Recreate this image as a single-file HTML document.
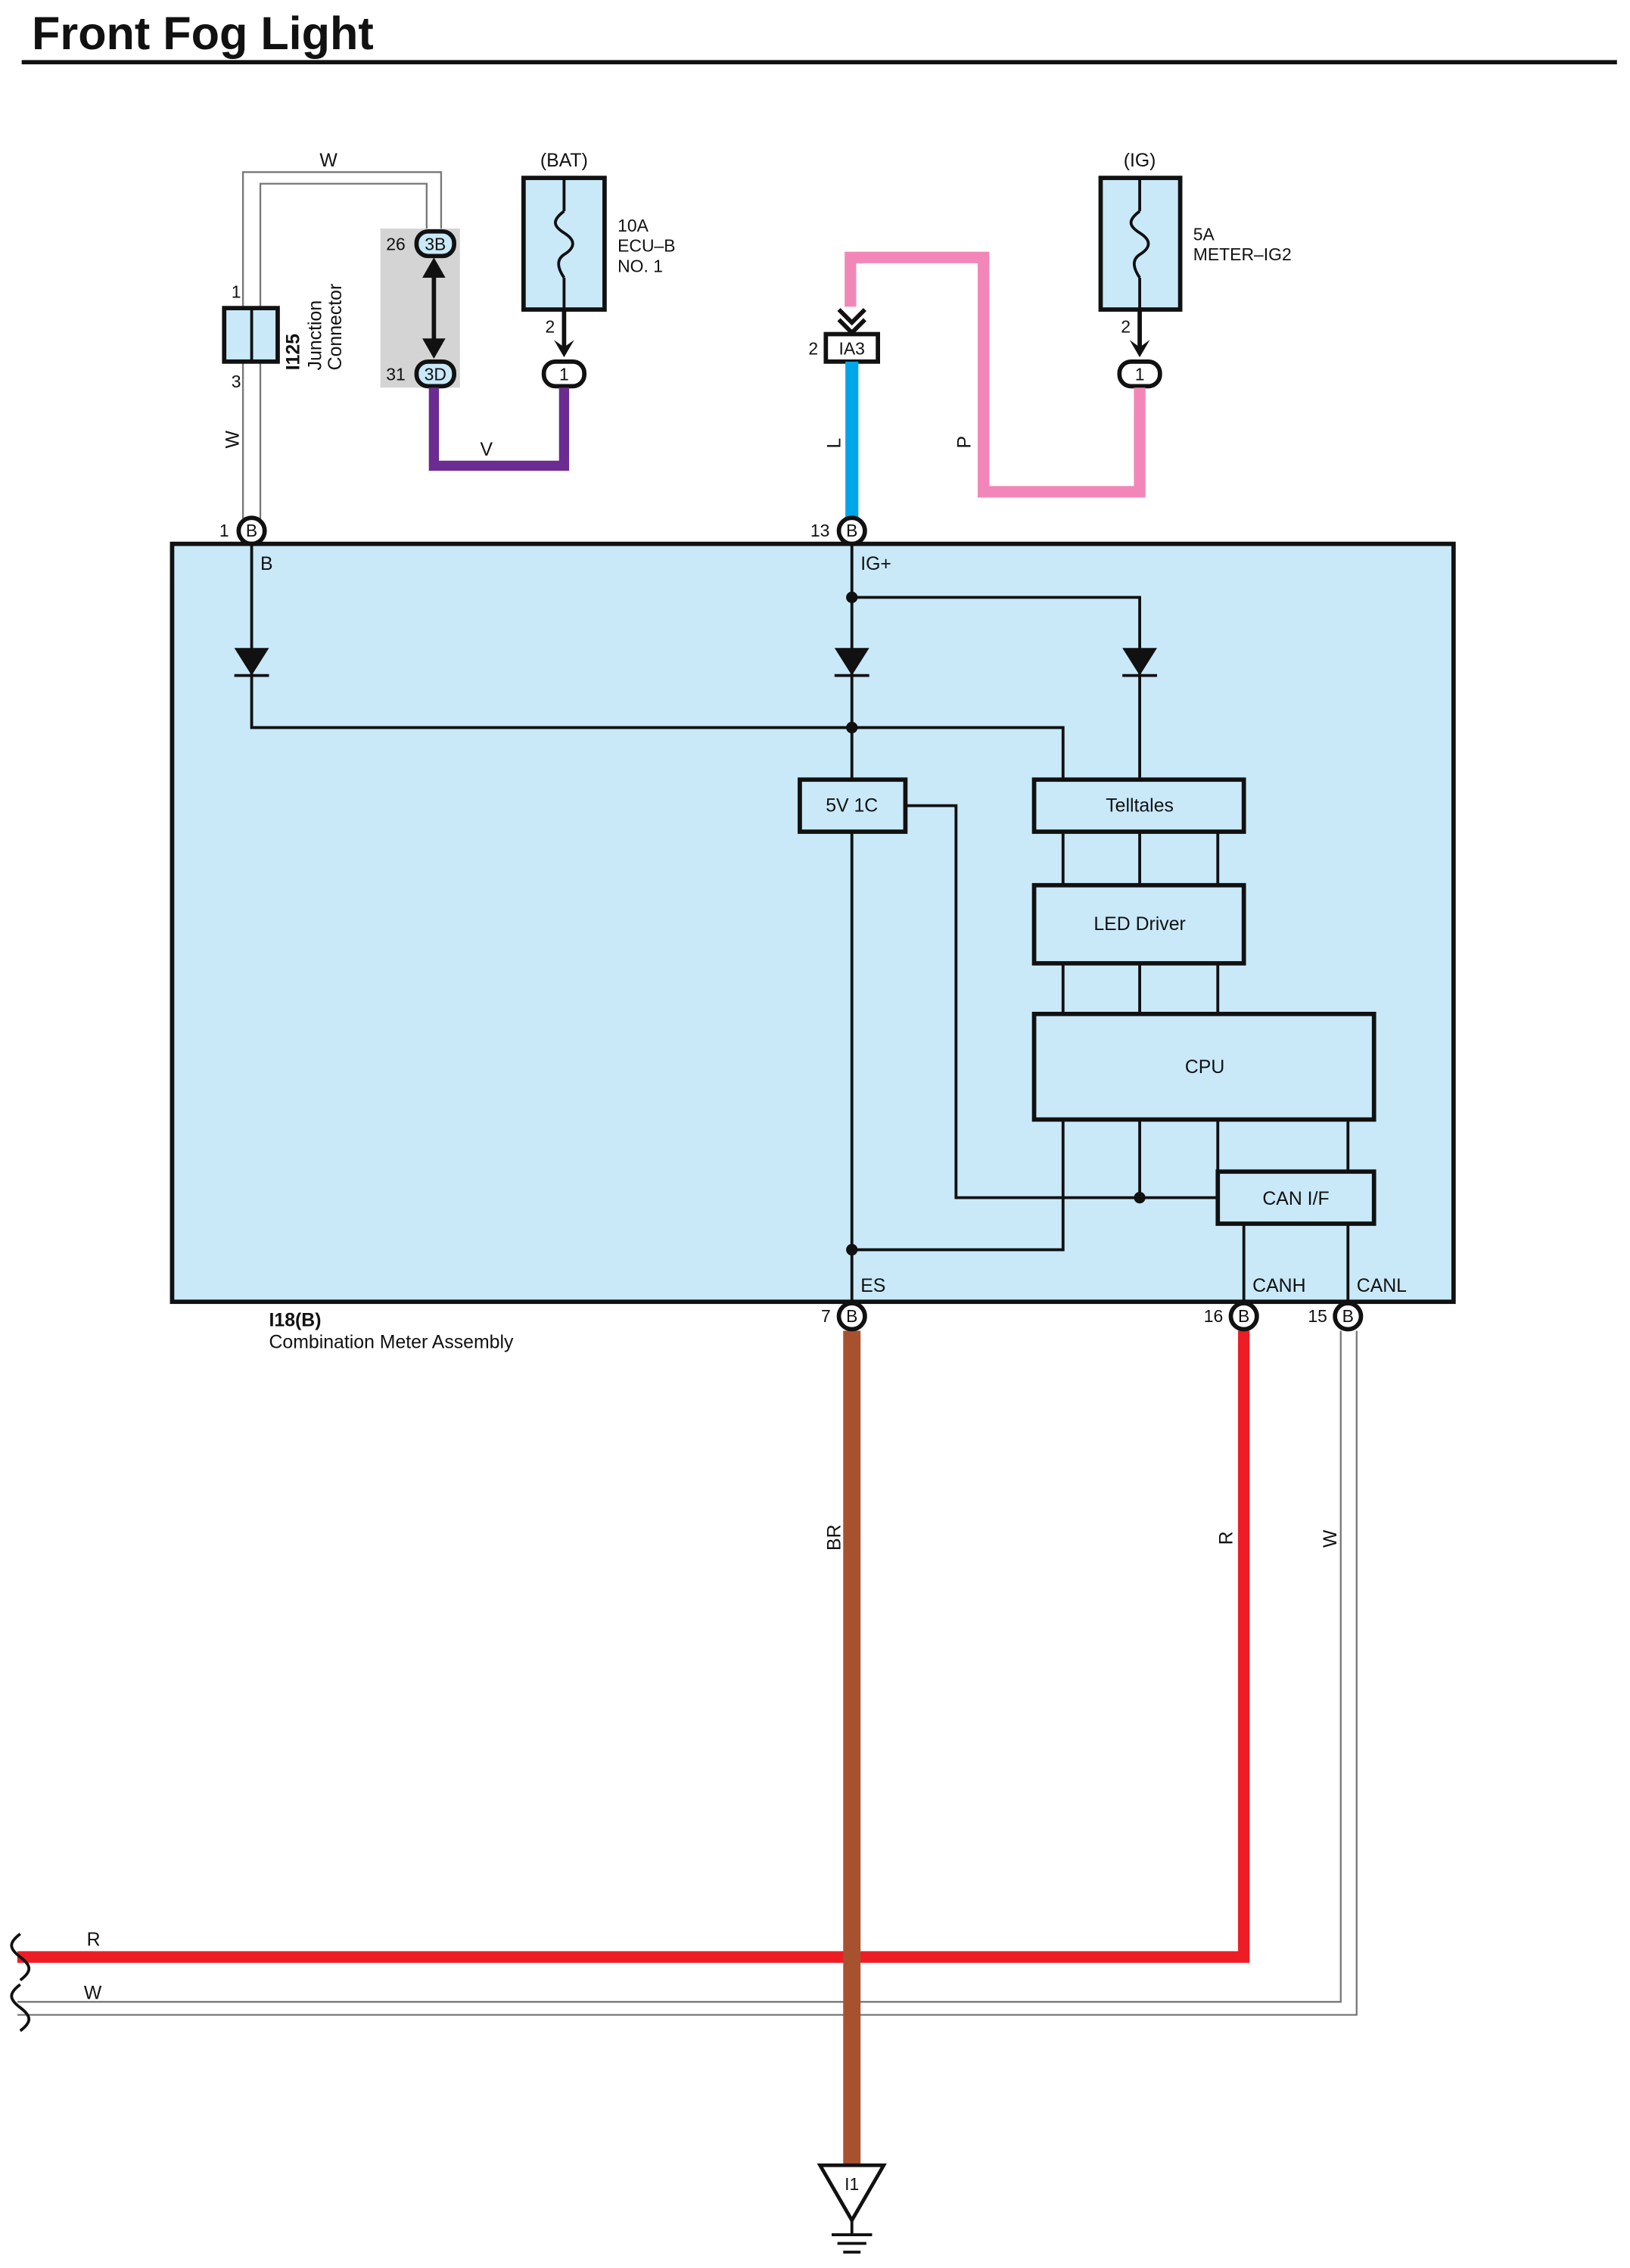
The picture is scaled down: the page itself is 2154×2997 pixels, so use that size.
<!DOCTYPE html>
<html><head><meta charset="utf-8"><style>
html,body{margin:0;padding:0;background:#fff}
svg{display:block}
text{font-family:"Liberation Sans",sans-serif;fill:#111}
</style></head><body>
<svg width="2154" height="2997" viewBox="0 0 1127 1568" preserveAspectRatio="none" xmlns="http://www.w3.org/2000/svg">
<text x="22" y="34" font-size="32" font-weight="bold">Front Fog Light</text>
<line x1="15" y1="43" x2="1118" y2="43" stroke="#111" stroke-width="3"/>

<path d="M168,360V119H305V160" fill="none" stroke="#777" stroke-width="1.2"/>
<path d="M180,360V127H295V160" fill="none" stroke="#777" stroke-width="1.2"/>
<text x="221" y="115" font-size="13">W</text>
<text x="165" y="310" font-size="13" transform="rotate(-90 165 310)">W</text>
<rect x="155" y="213" width="37" height="37" fill="#c9e9f9" stroke="#111" stroke-width="3"/>
<line x1="174" y1="213" x2="174" y2="250" stroke="#111" stroke-width="2"/>
<text x="160" y="206" font-size="12">1</text>
<text x="160" y="268" font-size="12">3</text>
<text x="207" y="256" font-size="13" font-weight="bold" transform="rotate(-90 207 256)">I125</text>
<text x="222" y="256" font-size="13" transform="rotate(-90 222 256)">Junction</text>
<text x="236" y="256" font-size="13" transform="rotate(-90 236 256)">Connector</text>

<rect x="263" y="158" width="55" height="110" fill="#d4d4d4"/>
<line x1="300" y1="182" x2="300" y2="244" stroke="#111" stroke-width="3"/>
<path d="M292,192L300,178L308,192z M292,234L300,248L308,234z" fill="#111"/>
<rect x="288" y="160" width="26" height="17" rx="8" fill="#c9e9f9" stroke="#111" stroke-width="3"/>
<text x="301" y="173" font-size="12" text-anchor="middle">3B</text>
<rect x="288" y="250" width="26" height="17" rx="8" fill="#c9e9f9" stroke="#111" stroke-width="3"/>
<text x="301" y="263" font-size="12" text-anchor="middle">3D</text>
<text x="267" y="173" font-size="12">26</text>
<text x="267" y="263" font-size="12">31</text>

<text x="390" y="115" font-size="13" text-anchor="middle">(BAT)</text>
<rect x="362" y="123" width="56" height="91" fill="#c9e9f9" stroke="#111" stroke-width="3"/>
<line x1="390" y1="123" x2="390" y2="146" stroke="#111" stroke-width="2"/>
<line x1="390" y1="192" x2="390" y2="214" stroke="#111" stroke-width="2"/>
<path d="M390,146c-8,6-8,10,0,15c8,5,8,10,0,15c-6,4-4,10,0,16" fill="none" stroke="#111" stroke-width="2"/>
<text x="427" y="160" font-size="12">10A</text>
<text x="427" y="174" font-size="12">ECU–B</text>
<text x="427" y="188" font-size="12">NO. 1</text>
<text x="377" y="230" font-size="12">2</text>
<line x1="390" y1="214" x2="390" y2="240" stroke="#111" stroke-width="3"/>
<path d="M383,235L390,247L397,235L390,240z" fill="#111"/>
<rect x="376" y="250" width="28" height="17" rx="8" fill="#fff" stroke="#111" stroke-width="3"/>
<text x="390" y="263" font-size="12" text-anchor="middle">1</text>
<path d="M300,268V322H390V268" fill="none" stroke="#6b2c91" stroke-width="7"/>
<text x="332" y="315" font-size="13">V</text>

<text x="788" y="115" font-size="13" text-anchor="middle">(IG)</text>
<rect x="761" y="123" width="55" height="91" fill="#c9e9f9" stroke="#111" stroke-width="3"/>
<line x1="788" y1="123" x2="788" y2="146" stroke="#111" stroke-width="2"/>
<line x1="788" y1="192" x2="788" y2="214" stroke="#111" stroke-width="2"/>
<path d="M788,146c-8,6-8,10,0,15c8,5,8,10,0,15c-6,4-4,10,0,16" fill="none" stroke="#111" stroke-width="2"/>
<text x="825" y="166" font-size="12">5A</text>
<text x="825" y="180" font-size="12">METER–IG2</text>
<text x="775" y="230" font-size="12">2</text>
<line x1="788" y1="214" x2="788" y2="240" stroke="#111" stroke-width="3"/>
<path d="M781,235L788,247L795,235L788,240z" fill="#111"/>
<rect x="774" y="250" width="28" height="17" rx="8" fill="#fff" stroke="#111" stroke-width="3"/>
<text x="788" y="263" font-size="12" text-anchor="middle">1</text>
<path d="M788,268V340H680V178H588V212" fill="none" stroke="#f386b8" stroke-width="8"/>
<path d="M580,214L589,223L598,214M580,221L589,230L598,221" fill="none" stroke="#111" stroke-width="3"/>
<text x="671" y="310" font-size="13" transform="rotate(-90 671 310)">P</text>
<rect x="571" y="231" width="36" height="19" fill="#fff" stroke="#111" stroke-width="3"/>
<text x="589" y="245" font-size="12" text-anchor="middle">IA3</text>
<text x="559" y="245" font-size="12">2</text>
<line x1="589" y1="250" x2="589" y2="360" stroke="#00a6e8" stroke-width="9"/>
<text x="581" y="310" font-size="13" transform="rotate(-90 581 310)">L</text>

<rect x="119" y="376" width="886" height="524" fill="#c9e9f9" stroke="#111" stroke-width="3"/>
<g stroke="#111" stroke-width="2" fill="none">
<path d="M174,376V503H735V539"/>
<path d="M589,376V539"/>
<path d="M589,413H788V539"/>
<path d="M735,575V612M788,575V612M842,575V612"/>
<path d="M735,666V701M788,666V701M842,666V701"/>
<path d="M735,774V864H589"/>
<path d="M788,774V828"/>
<path d="M842,774V810M932,774V810"/>
<path d="M626,557H661V828H842"/>
<path d="M589,575V900"/>
<path d="M860,846V900M932,846V900"/>
</g>
<g fill="#111">
<path d="M162,448H186L174,467z"/><line x1="162" y1="467" x2="186" y2="467" stroke="#111" stroke-width="2"/>
<path d="M577,448H601L589,467z"/><line x1="577" y1="467" x2="601" y2="467" stroke="#111" stroke-width="2"/>
<path d="M776,448H800L788,467z"/><line x1="776" y1="467" x2="800" y2="467" stroke="#111" stroke-width="2"/>
<circle cx="589" cy="413" r="4"/><circle cx="589" cy="503" r="4"/><circle cx="589" cy="864" r="4"/><circle cx="788" cy="828" r="4"/>
</g>
<g fill="#c9e9f9" stroke="#111" stroke-width="3">
<rect x="553" y="539" width="73" height="36"/>
<rect x="715" y="539" width="145" height="36"/>
<rect x="715" y="612" width="145" height="54"/>
<rect x="715" y="701" width="235" height="73"/>
<rect x="842" y="810" width="108" height="36"/>
</g>
<g font-size="13" text-anchor="middle">
<text x="589" y="561">5V 1C</text>
<text x="788" y="561">Telltales</text>
<text x="788" y="643">LED Driver</text>
<text x="833" y="742">CPU</text>
<text x="896" y="833">CAN I/F</text>
</g>
<g font-size="13">
<text x="180" y="394">B</text>
<text x="595" y="394">IG+</text>
<text x="595" y="893">ES</text>
<text x="866" y="893">CANH</text>
<text x="938" y="893">CANL</text>
<text x="186" y="917" font-weight="bold">I18(B)</text>
<text x="186" y="932">Combination Meter Assembly</text>
</g>

<path d="M938,920V1393H12" fill="none" stroke="#777" stroke-width="1.2"/>
<path d="M927,920V1384H12" fill="none" stroke="#777" stroke-width="1.2"/>
<path d="M860,920V1353H12" fill="none" stroke="#ee1c25" stroke-width="8"/>
<line x1="589" y1="920" x2="589" y2="1497" stroke="#a8512f" stroke-width="12"/>
<text x="581" y="1072" font-size="13" transform="rotate(-90 581 1072)">BR</text>
<text x="852" y="1068" font-size="13" transform="rotate(-90 852 1068)">R</text>
<text x="924" y="1070" font-size="13" transform="rotate(-90 924 1070)">W</text>
<text x="60" y="1345" font-size="13">R</text>
<text x="58" y="1382" font-size="13">W</text>
<path d="M14,1337c-8,6-8,10,0,16c8,6,8,10,0,16" fill="none" stroke="#111" stroke-width="2"/>
<path d="M14,1372c-8,6-8,10,0,16c8,6,8,10,0,16" fill="none" stroke="#111" stroke-width="2"/>

<g font-size="12" text-anchor="middle">
<circle cx="174" cy="367" r="9" fill="#fff" stroke="#111" stroke-width="3"/><text x="174" y="371">B</text>
<circle cx="589" cy="367" r="9" fill="#fff" stroke="#111" stroke-width="3"/><text x="589" y="371">B</text>
<circle cx="589" cy="910" r="9" fill="#fff" stroke="#111" stroke-width="3"/><text x="589" y="914">B</text>
<circle cx="860" cy="910" r="9" fill="#fff" stroke="#111" stroke-width="3"/><text x="860" y="914">B</text>
<circle cx="932" cy="910" r="9" fill="#fff" stroke="#111" stroke-width="3"/><text x="932" y="914">B</text>
<text x="155" y="371">1</text>
<text x="567" y="371">13</text>
<text x="571" y="914">7</text>
<text x="839" y="914">16</text>
<text x="911" y="914">15</text>
</g>

<path d="M567,1497H611L589,1535z" fill="#fff" stroke="#111" stroke-width="2.5"/>
<text x="589" y="1514" font-size="12" text-anchor="middle">I1</text>
<line x1="589" y1="1535" x2="589" y2="1545" stroke="#111" stroke-width="2"/>
<line x1="575" y1="1545" x2="603" y2="1545" stroke="#111" stroke-width="2"/>
<line x1="579" y1="1551" x2="599" y2="1551" stroke="#111" stroke-width="2"/>
<line x1="583" y1="1557" x2="595" y2="1557" stroke="#111" stroke-width="2"/>
</svg>
</body></html>
